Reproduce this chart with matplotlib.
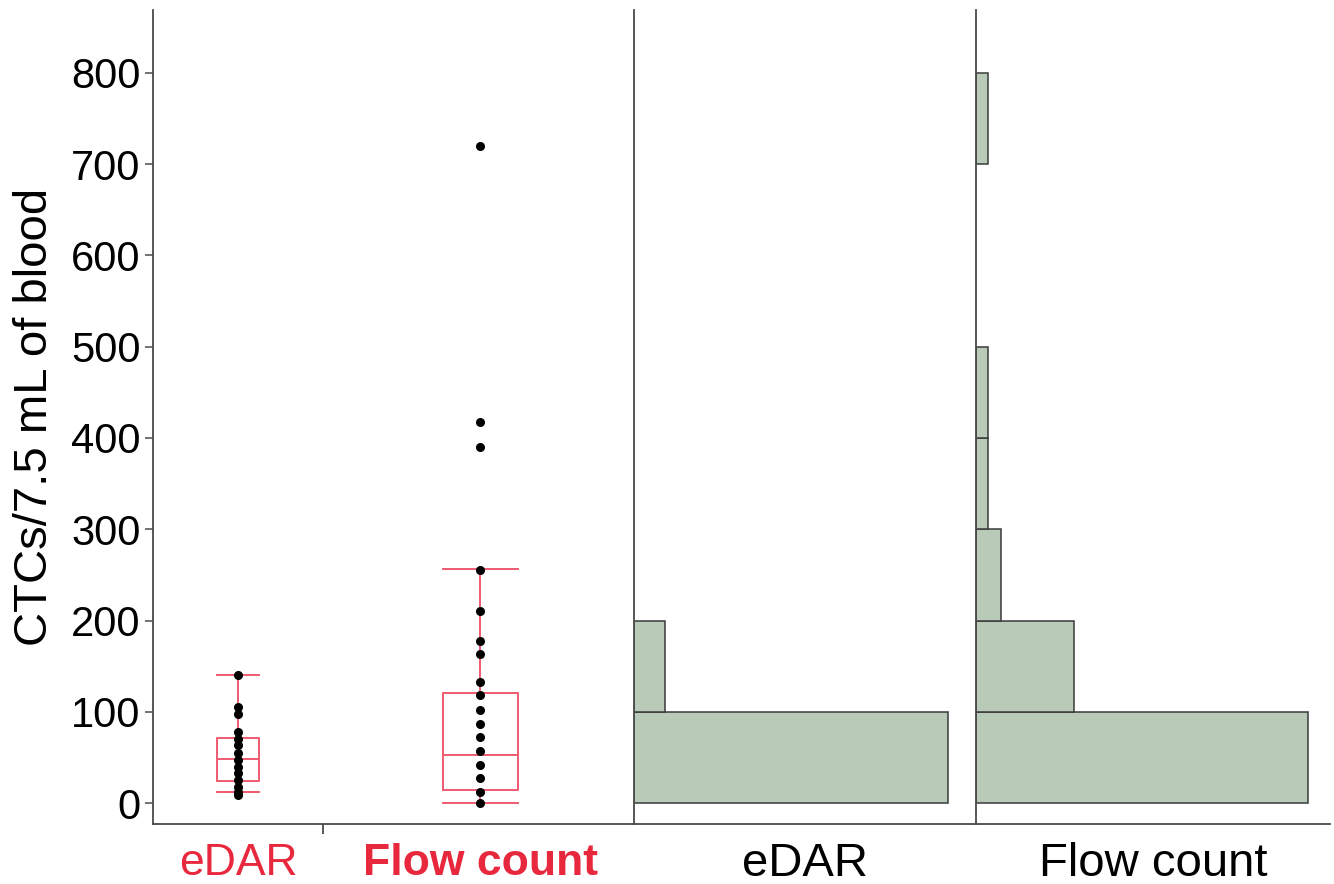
import matplotlib
matplotlib.use("Agg")
import matplotlib.pyplot as plt
import numpy as np

# ---------------- data ----------------
categories = ["eDAR", "Flow count"]
edar_points = [140, 105, 97, 78, 70, 64, 55, 47, 40, 33, 25, 18, 12, 9]
flow_points = [720, 418, 390, 255, 210, 178, 163, 133, 118, 102, 87, 72, 57, 42, 27, 12, 0]
# box statistics: whislo, q1, med, q3, whishi
edar_box = [12, 24, 48, 71, 140]
flow_box = [0, 14, 53, 121, 256]
bin_edges = [0, 100, 200, 300, 400, 500, 600, 700, 800]
edar_hist = [30, 3, 0, 0, 0, 0, 0, 0]
flow_hist = [27, 8, 2, 1, 1, 0, 0, 1]
y_ticks = [0, 100, 200, 300, 400, 500, 600, 700, 800]

plt.rcParams['font.family'] = ['Liberation Sans', 'DejaVu Sans']

W, H = 1334, 884
fig = plt.figure(figsize=(W / 100, H / 100), dpi=100)

def rect(l, r, top=10, bot=824):
    return [l / W, 1 - bot / H, (r - l) / W, (bot - top) / H]

ax1 = fig.add_axes(rect(153, 634))
ax2 = fig.add_axes(rect(634, 976))
ax3 = fig.add_axes(rect(976, 1330))

ylim = (-23, 869)
spine_col = "#4a4a4a"
box_col = "#f05a70"
lab_red = "#e8283c"
hist_fill = "#b9cab9"
hist_edge = "#3a3a3a"

for ax in (ax1, ax2, ax3):
    ax.set_ylim(*ylim)
    for s in ("top", "right"):
        ax.spines[s].set_visible(False)
    for s in ("left", "bottom"):
        ax.spines[s].set_color(spine_col)
        ax.spines[s].set_linewidth(1.3)

# ---------------- box plot panel ----------------
stats = []
for lab, b in zip(categories, [edar_box, flow_box]):
    stats.append(dict(label=lab, whislo=b[0], q1=b[1], med=b[2], q3=b[3], whishi=b[4], fliers=[]))
positions = [1, 2]
widths = [0.174, 0.31]
ax1.bxp(stats, positions=positions, widths=widths, showfliers=False,
        boxprops=dict(color=box_col, linewidth=1.4),
        medianprops=dict(color=box_col, linewidth=1.4),
        whiskerprops=dict(color=box_col, linewidth=1.4),
        capprops=dict(color=box_col, linewidth=1.4),
        capwidths=widths, manage_ticks=False)
for pos, pts in zip(positions, [edar_points, flow_points]):
    ax1.plot([pos] * len(pts), pts, 'o', color='black', markersize=5.5, zorder=5)

ax1.set_xlim(0.649, 2.636)
ax1.set_xticks(positions)
ax1.set_xticklabels(categories)
ax1.tick_params(axis='x', length=0, pad=14)
for t, w in zip(ax1.get_xticklabels(), ["normal", "bold"]):
    t.set_color(lab_red)
    t.set_fontsize(32)
    t.set_fontweight(w)
ax1.set_xticks([1.351], minor=True)
ax1.tick_params(axis='x', which='minor', length=7, width=1.3, color=spine_col)
ax1.set_yticks(y_ticks)
ax1.set_yticklabels([str(v) for v in y_ticks], fontsize=30)
ax1.tick_params(axis='y', length=6, width=1.1, color=spine_col, pad=3)
ax1.set_ylabel("CTCs/7.5 mL of blood", fontsize=34, labelpad=10)

# ---------------- histograms ----------------
lo = bin_edges[:-1]
hgt = np.diff(bin_edges)
for ax, counts, lab, xmax in [(ax2, edar_hist, "eDAR", 32.7), (ax3, flow_hist, "Flow count", 28.8)]:
    mask = [c > 0 for c in counts]
    ax.barh([l for l, m in zip(lo, mask) if m], [c for c, m in zip(counts, mask) if m],
            height=[h for h, m in zip(hgt, mask) if m], align='edge',
            color=hist_fill, edgecolor=hist_edge, linewidth=1.1)
    ax.set_xlim(0, xmax)
    ax.set_xticks([])
    ax.set_yticks([])
    ax.set_xlabel(lab, fontsize=34, labelpad=13)

fig.savefig("out.png", dpi=100, facecolor="white")
